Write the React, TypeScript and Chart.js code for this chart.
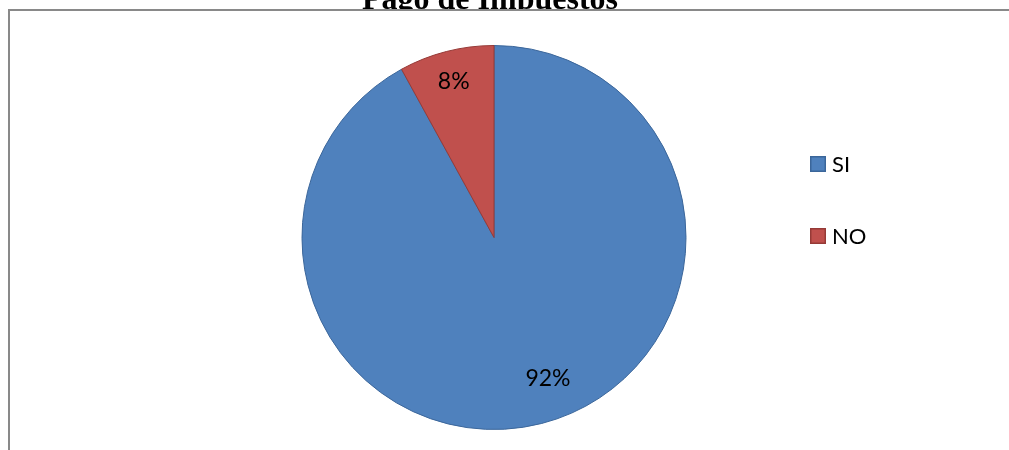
import React, { useEffect, useRef } from "react";
import { Chart, registerables } from "chart.js";

Chart.register(...registerables);

// ---- data ----
const categories = ["SI", "NO"];
const values = [92, 8];
const titleText = "Pago de Impuestos";

// ---- style ----
const sliceColors = ["#4F81BD", "#C0504D"];
const sliceBorders = ["#3B669A", "#963A37"];
const labelRadius = [0.784, 0.844];
const labelAngleNudgeDeg = [-6.6, 0];

const W = 1009;
const H = 450;

export default function App() {
  const ref = useRef<HTMLCanvasElement>(null);

  useEffect(() => {
    const canvas = ref.current!;

    const framePlugin = {
      id: "frame",
      afterDraw(chart: any) {
        const ctx = chart.ctx as CanvasRenderingContext2D;
        // title (partly cut off by chart frame)
        ctx.save();
        ctx.beginPath();
        ctx.rect(0, 0, W, 9);
        ctx.clip();
        ctx.fillStyle = "#000";
        ctx.font = "bold 32px 'Liberation Serif', 'Times New Roman', serif";
        ctx.textAlign = "center";
        ctx.textBaseline = "alphabetic";
        ctx.fillText(titleText, 490, 9);
        ctx.restore();
        // frame lines
        ctx.save();
        ctx.strokeStyle = "#898989";
        ctx.lineWidth = 2;
        ctx.beginPath();
        ctx.moveTo(8, 10);
        ctx.lineTo(W, 10);
        ctx.moveTo(9, 9);
        ctx.lineTo(9, H);
        ctx.stroke();
        ctx.restore();
      },
    };

    const labelPlugin = {
      id: "sliceLabels",
      afterDatasetsDraw(chart: any) {
        const ctx = chart.ctx as CanvasRenderingContext2D;
        const meta = chart.getDatasetMeta(0);
        const data = chart.data.datasets[0].data as number[];
        const total = data.reduce((a, b) => a + b, 0);
        ctx.save();
        ctx.fillStyle = "#000";
        ctx.font = "23px Lato, 'Open Sans', sans-serif";
        ctx.textAlign = "center";
        ctx.textBaseline = "middle";
        meta.data.forEach((arc: any, i: number) => {
          const p = arc.getProps(["x", "y", "startAngle", "endAngle", "outerRadius"], true);
          const mid = (p.startAngle + p.endAngle) / 2 + (labelAngleNudgeDeg[i] * Math.PI) / 180;
          const r = p.outerRadius * labelRadius[i];
          const txt = `${Math.round((data[i] / total) * 100)}%`;
          ctx.fillText(txt, p.x + Math.cos(mid) * r, p.y + Math.sin(mid) * r + 1);
        });
        ctx.restore();
      },
    };

    const legendPlugin = {
      id: "sideLegend",
      afterDraw(chart: any) {
        const ctx = chart.ctx as CanvasRenderingContext2D;
        const labels = chart.data.labels as string[];
        const ds = chart.data.datasets[0];
        const x0 = 810;
        const y0 = 164;
        const gap = 72;
        const box = 16;
        ctx.save();
        ctx.font = "22px Lato, 'Open Sans', sans-serif";
        ctx.textAlign = "left";
        ctx.textBaseline = "middle";
        labels.forEach((lab, i) => {
          const cy = y0 + i * gap;
          ctx.fillStyle = ds.backgroundColor[i];
          ctx.fillRect(x0, cy - box / 2, box, box);
          ctx.strokeStyle = ds.borderColor[i];
          ctx.lineWidth = 1.5;
          ctx.strokeRect(x0 + 0.75, cy - box / 2 + 0.75, box - 1.5, box - 1.5);
          ctx.fillStyle = "#000";
          ctx.fillText(lab, x0 + box + 6, cy + 1);
        });
        ctx.restore();
      },
    };

    const chart = new Chart(canvas, {
      type: "pie",
      data: {
        labels: categories,
        datasets: [
          {
            data: values,
            backgroundColor: sliceColors,
            borderColor: sliceBorders,
            borderWidth: 1,
          },
        ],
      },
      options: {
        responsive: false,
        animation: false,
        events: [],
        layout: { padding: { left: 301.5, right: 322.5, top: 45, bottom: 20 } },
        plugins: {
          legend: { display: false },
          tooltip: { enabled: false },
          title: { display: false },
        },
      },
      plugins: [framePlugin, labelPlugin, legendPlugin],
    });

    return () => chart.destroy();
  }, []);

  return (
    <div style={{ position: "fixed", left: 0, top: 0, width: W, height: H, background: "#fff" }}>
      <canvas ref={ref} width={W} height={H} style={{ display: "block", width: W, height: H }} />
    </div>
  );
}
